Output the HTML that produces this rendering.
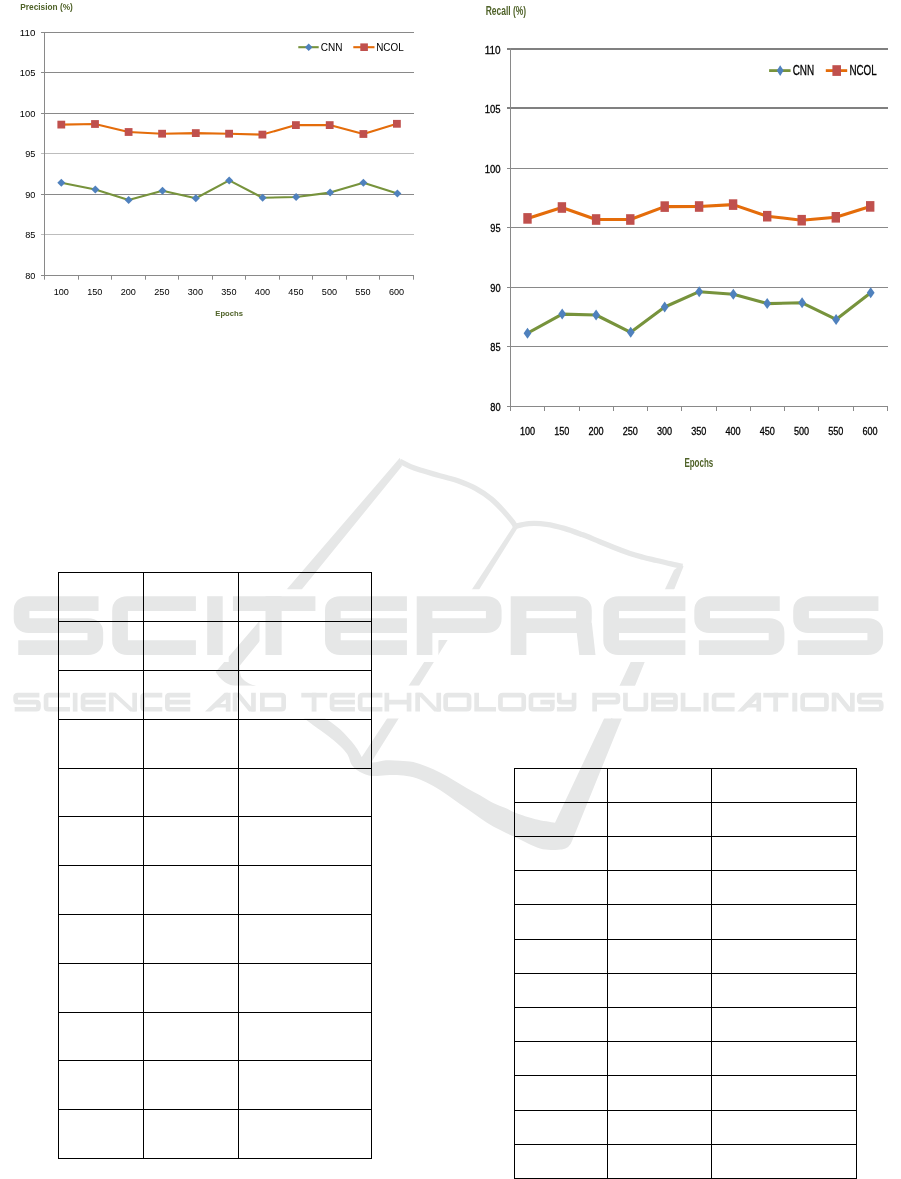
<!DOCTYPE html>
<html><head><meta charset="utf-8"><title>page</title>
<style>html,body{margin:0;padding:0;background:#fff;}body{width:901px;height:1179px;overflow:hidden;position:relative;font-family:'Liberation Sans', sans-serif;}svg{position:absolute;left:0;top:0;display:block;}text{font-family:'Liberation Sans', sans-serif;}</style>
</head><body>
<svg width="901" height="1179" viewBox="0 0 901 1179">
<defs><filter id="halo" filterUnits="userSpaceOnUse" x="0" y="575" width="901" height="100" color-interpolation-filters="sRGB"><feMorphology in="SourceAlpha" operator="dilate" radius="6 7" result="dil"/><feFlood flood-color="#ffffff" result="white"/><feComposite in="white" in2="dil" operator="in" result="halo"/><feMerge><feMergeNode in="halo"/><feMergeNode in="SourceGraphic"/></feMerge></filter><filter id="halo2" filterUnits="userSpaceOnUse" x="0" y="675" width="901" height="55" color-interpolation-filters="sRGB"><feMorphology in="SourceAlpha" operator="dilate" radius="13.5 6.8" result="dil"/><feFlood flood-color="#ffffff" result="white"/><feComposite in="white" in2="dil" operator="in" result="halo"/><feMerge><feMergeNode in="halo"/><feMergeNode in="SourceGraphic"/></feMerge></filter><filter id="soft" filterUnits="userSpaceOnUse" x="0" y="440" width="901" height="430"><feGaussianBlur stdDeviation="0.55"/></filter></defs>
<rect width="901" height="1179" fill="#fff"/>
<g id="wm" filter="url(#soft)">
<path fill="#e6e7e7" d="M399.9 457.7 L215.6 672 C216.5 673.1 218.9 676.9 221.1 678.9 C223.3 680.9 225.7 683.0 228.8 684.3 C231.9 685.6 234.8 686.4 239.7 686.8 C244.6 687.2 255.3 686.6 258.4 686.6 L258.4 686.4 C256.8 685.9 251.7 684.9 249.0 683.5 C246.3 682.1 243.5 680.0 242.0 678.1 C240.5 676.2 240.4 674.0 240.0 671.9 C239.6 669.8 239.8 666.7 239.7 665.7 L401.9 466.3 Z"/>
<path fill="none" stroke="#e6e7e7" stroke-width="5.3" d="M399.8 461.3 C401.6 462.2 407.0 465.1 410.6 466.6 C414.2 468.1 417.4 469.1 421.2 470.3 C425.0 471.5 429.0 472.7 433.2 473.9 C437.4 475.1 442.3 476.3 446.5 477.5 C450.7 478.7 453.7 479.2 458.5 481.0 C463.3 482.8 470.0 485.4 475.5 488.4 C481.0 491.4 486.8 495.2 491.5 499.1 C496.2 503.0 500.3 507.6 503.9 511.5 C507.4 515.4 510.9 519.7 512.8 522.2 C514.7 524.7 515.0 525.9 515.5 526.6"/>
<path fill="none" stroke="#e6e7e7" stroke-width="5.3" d="M515.5 526.2 C517.7 525.8 523.6 523.9 528.8 523.6 C534.0 523.3 540.7 523.5 546.6 524.3 C552.5 525.1 558.4 526.7 564.3 528.4 C570.2 530.1 576.2 532.4 582.1 534.6 C588.0 536.8 594.5 539.6 599.8 541.7 C605.1 543.9 609.0 545.5 614.0 547.5 C619.0 549.5 625.2 551.8 630.0 553.4 C634.8 555.0 638.6 556.0 643.0 557.2 C647.4 558.4 652.1 559.4 656.6 560.5 C661.1 561.6 665.7 562.6 670.0 563.6 C674.3 564.6 680.3 565.8 682.4 566.3"/>
<path fill="#e6e7e7" d="M513.5 526 L518.2 527 L370.5 763.5 L359.5 760.5 Z"/>
<path fill="#e6e7e7" d="M302.6 717.3 L324 717.6 C326.7 719.5 334.9 724.7 340.0 729.3 C345.1 733.9 350.8 740.4 354.6 745.3 C358.4 750.2 361.3 756.4 362.6 758.6 C364.2 759.2 368.1 762.2 372.0 762.5 C375.9 762.8 381.3 760.6 386.0 760.3 C390.7 760.0 395.4 760.4 400.0 760.7 C404.6 761.0 408.9 761.0 413.3 762.0 C417.7 763.0 422.2 764.8 426.6 766.6 C431.1 768.4 435.6 770.4 440.0 772.6 C444.4 774.8 448.9 777.4 453.3 780.0 C457.7 782.6 462.2 785.5 466.6 788.0 C471.1 790.5 475.6 792.8 480.0 795.3 C484.4 797.8 488.8 800.8 493.2 803.0 C497.6 805.2 502.8 806.9 506.6 808.6 C510.4 810.3 511.2 811.2 516.0 813.0 C520.8 814.8 529.0 817.6 535.5 819.2 C542.0 820.8 551.8 822.1 555.0 822.7 L674 570 L681.5 564.6 L683.5 566.5 L572 841 Q569.5 848.3 562 849.6 C560.2 849.7 554.7 850.2 551.0 850.0 C547.3 849.8 543.8 849.6 540.0 848.5 C536.2 847.4 532.2 845.5 528.0 843.5 C523.8 841.5 518.1 838.5 514.5 836.8 C510.9 835.1 510.2 834.9 506.6 833.2 C503.1 831.5 497.6 829.1 493.2 826.6 C488.8 824.1 484.4 821.0 480.0 818.0 C475.6 815.0 471.1 811.7 466.6 808.6 C462.2 805.5 457.7 802.4 453.3 799.3 C448.9 796.2 444.4 792.8 440.0 790.0 C435.6 787.2 431.1 784.7 426.6 782.6 C422.2 780.5 417.7 778.5 413.3 777.3 C408.9 776.1 404.6 775.6 400.0 775.3 C395.4 774.9 390.7 775.1 386.0 775.2 C381.3 775.3 376.3 776.5 372.0 776.0 C367.7 775.5 363.3 773.8 360.0 772.0 C356.7 770.2 354.2 768.4 352.0 765.3 C349.8 762.2 349.7 757.5 346.6 753.3 C343.5 749.1 338.9 744.7 333.3 740.0 C327.8 735.3 318.4 729.1 313.3 725.3 C308.2 721.5 304.4 718.6 302.6 717.3 Z"/>
<g filter="url(#halo)">
<g transform="translate(13.70 0) scale(1.060 1) translate(-13.70 0)">
<path d="M 93.73 603.6 H 28.1 Q 21.1 603.6 21.1 610.6 V 618.6 Q 21.1 625.6 28.1 625.6 H 83.73 Q 90.73 625.6 90.73 632.6 V 640.6 Q 90.73 647.6 83.73 647.6 H 18" fill="none" stroke="#e6e7e7" stroke-width="14.8" stroke-linejoin="miter"/>
</g>
<g transform="translate(112.20 0) scale(1.060 1) translate(-112.20 0)">
<path d="M 191.16 603.6 H 126.6 Q 119.6 603.6 119.6 610.6 V 640.6 Q 119.6 647.6 126.6 647.6 H 191.16" fill="none" stroke="#e6e7e7" stroke-width="14.8" stroke-linejoin="miter"/>
</g>
<g transform="translate(207.20 0) scale(1.060 1) translate(-207.20 0)">
<polygon points="207.2,596.2 221.82,596.2 221.82,655 207.2,655" fill="#e6e7e7"/>
</g>
<g transform="translate(232.90 0) scale(1.060 1) translate(-232.90 0)">
<path d="M 232.9 603.6 H 310.73" fill="none" stroke="#e6e7e7" stroke-width="14.8" stroke-linejoin="miter"/>
<polygon points="263.64,596.2 278.89,596.2 278.89,655 263.64,655" fill="#e6e7e7"/>
</g>
<g transform="translate(325.00 0) scale(1.060 1) translate(-325.00 0)">
<path d="M 402.26 603.6 H 339.4 Q 332.4 603.6 332.4 610.6 V 640.6 Q 332.4 647.6 339.4 647.6 H 402.26 M 332.4 625.6 H 402.26" fill="none" stroke="#e6e7e7" stroke-width="14.8" stroke-linejoin="miter"/>
</g>
<g transform="translate(416.70 0) scale(1.060 1) translate(-416.70 0)">
<path d="M 424.1 655 V 603.6 H 482.39 Q 489.39 603.6 489.39 610.6 V 618.6 Q 489.39 625.6 482.39 625.6 H 424.1" fill="none" stroke="#e6e7e7" stroke-width="14.8" stroke-linejoin="miter"/>
</g>
<g transform="translate(510.70 0) scale(1.060 1) translate(-510.70 0)">
<path d="M 518.1 655 V 603.6 H 572.8 Q 579.8 603.6 579.8 610.6 V 618.6 Q 579.8 625.6 572.8 625.6 H 518.1" fill="none" stroke="#e6e7e7" stroke-width="14.8" stroke-linejoin="miter"/>
<polygon points="572.2,625.6 587.2,622.6 590.7,655 575.4,655" fill="#e6e7e7"/>
</g>
<g transform="translate(603.30 0) scale(1.060 1) translate(-603.30 0)">
<path d="M 680.75 603.6 H 617.7 Q 610.7 603.6 610.7 610.6 V 640.6 Q 610.7 647.6 617.7 647.6 H 680.75 M 610.7 625.6 H 680.75" fill="none" stroke="#e6e7e7" stroke-width="14.8" stroke-linejoin="miter"/>
</g>
<g transform="translate(694.30 0) scale(1.060 1) translate(-694.30 0)">
<path d="M 774.9 603.6 H 708.7 Q 701.7 603.6 701.7 610.6 V 618.6 Q 701.7 625.6 708.7 625.6 H 764.9 Q 771.9 625.6 771.9 632.6 V 640.6 Q 771.9 647.6 764.9 647.6 H 698.6" fill="none" stroke="#e6e7e7" stroke-width="14.8" stroke-linejoin="miter"/>
</g>
<g transform="translate(793.20 0) scale(1.060 1) translate(-793.20 0)">
<path d="M 873.61 603.6 H 807.6 Q 800.6 603.6 800.6 610.6 V 618.6 Q 800.6 625.6 807.6 625.6 H 863.61 Q 870.61 625.6 870.61 632.6 V 640.6 Q 870.61 647.6 863.61 647.6 H 797.5" fill="none" stroke="#e6e7e7" stroke-width="14.8" stroke-linejoin="miter"/>
</g>
</g>
<g filter="url(#halo2)">
<path d="M 39.39 695.15 H 17.85 Q 15.65 695.15 15.65 697.35 V 700 Q 15.65 702.2 17.85 702.2 H 36.25 Q 38.45 702.2 38.45 704.4 V 707.05 Q 38.45 709.25 36.25 709.25 H 14.67" fill="none" stroke="#e6e7e7" stroke-width="4.7" stroke-linejoin="miter"/>
<path d="M 70 695.15 H 48.25 Q 46.05 695.15 46.05 697.35 V 707.05 Q 46.05 709.25 48.25 709.25 H 70" fill="none" stroke="#e6e7e7" stroke-width="4.7" stroke-linejoin="miter"/>
<polygon points="72.8,692.8 77.5,692.8 77.5,711.6 72.8,711.6" fill="#e6e7e7"/>
<path d="M 105.7 695.15 H 85.25 Q 83.05 695.15 83.05 697.35 V 707.05 Q 83.05 709.25 85.25 709.25 H 105.7 M 83.05 702.2 H 105.7" fill="none" stroke="#e6e7e7" stroke-width="4.7" stroke-linejoin="miter"/>
<path d="M 111.25 711.6 V 692.8 M 134.65 692.8 V 711.6" fill="none" stroke="#e6e7e7" stroke-width="4.7" stroke-linejoin="miter"/>
<polygon points="109.84,692.8 115.72,692.8 136.06,711.6 130.19,711.6" fill="#e6e7e7"/>
<path d="M 162.3 695.15 H 144.85 Q 142.65 695.15 142.65 697.35 V 707.05 Q 142.65 709.25 144.85 709.25 H 162.3" fill="none" stroke="#e6e7e7" stroke-width="4.7" stroke-linejoin="miter"/>
<path d="M 190.3 695.15 H 169.55 Q 167.35 695.15 167.35 697.35 V 707.05 Q 167.35 709.25 169.55 709.25 H 190.3 M 167.35 702.2 H 190.3" fill="none" stroke="#e6e7e7" stroke-width="4.7" stroke-linejoin="miter"/>
<path d="M 228.15 692.8 V 711.6" fill="none" stroke="#e6e7e7" stroke-width="4.7" stroke-linejoin="miter"/>
<polygon points="205,711.6 224.58,692.8 228.15,692.8 228.15,697.5 211.11,711.6" fill="#e6e7e7"/>
<polygon points="216.38,704.08 228.15,704.08 228.15,707.46 212.63,707.46" fill="#e6e7e7"/>
<path d="M 235.05 711.6 V 692.8 M 253.45 692.8 V 711.6" fill="none" stroke="#e6e7e7" stroke-width="4.7" stroke-linejoin="miter"/>
<polygon points="233.64,692.8 239.51,692.8 254.86,711.6 248.99,711.6" fill="#e6e7e7"/>
<path d="M 262.35 695.15 H 281.45 Q 283.65 695.15 283.65 697.35 V 707.05 Q 283.65 709.25 281.45 709.25 H 262.35 Z" fill="none" stroke="#e6e7e7" stroke-width="4.7" stroke-linejoin="miter"/>
<path d="M 301.3 695.15 H 327.2" fill="none" stroke="#e6e7e7" stroke-width="4.7" stroke-linejoin="miter"/>
<polygon points="311.65,692.8 316.49,692.8 316.49,711.6 311.65,711.6" fill="#e6e7e7"/>
<path d="M 354.9 695.15 H 334.25 Q 332.05 695.15 332.05 697.35 V 707.05 Q 332.05 709.25 334.25 709.25 H 354.9 M 332.05 702.2 H 354.9" fill="none" stroke="#e6e7e7" stroke-width="4.7" stroke-linejoin="miter"/>
<path d="M 382.4 695.15 H 362.35 Q 360.15 695.15 360.15 697.35 V 707.05 Q 360.15 709.25 362.35 709.25 H 382.4" fill="none" stroke="#e6e7e7" stroke-width="4.7" stroke-linejoin="miter"/>
<path d="M 386.85 692.8 V 711.6 M 409.05 692.8 V 711.6 M 386.85 702.2 H 409.05" fill="none" stroke="#e6e7e7" stroke-width="4.7" stroke-linejoin="miter"/>
<path d="M 417.65 711.6 V 692.8 M 438.75 692.8 V 711.6" fill="none" stroke="#e6e7e7" stroke-width="4.7" stroke-linejoin="miter"/>
<polygon points="416.24,692.8 422.12,692.8 440.16,711.6 434.29,711.6" fill="#e6e7e7"/>
<path d="M 447.85 695.15 H 466.85 Q 469.05 695.15 469.05 697.35 V 707.05 Q 469.05 709.25 466.85 709.25 H 447.85 Q 445.65 709.25 445.65 707.05 V 697.35 Q 445.65 695.15 447.85 695.15 Z" fill="none" stroke="#e6e7e7" stroke-width="4.7" stroke-linejoin="miter"/>
<path d="M 476.65 692.8 V 709.25 H 496" fill="none" stroke="#e6e7e7" stroke-width="4.7" stroke-linejoin="miter"/>
<path d="M 502.65 695.15 H 521.55 Q 523.75 695.15 523.75 697.35 V 707.05 Q 523.75 709.25 521.55 709.25 H 502.65 Q 500.45 709.25 500.45 707.05 V 697.35 Q 500.45 695.15 502.65 695.15 Z" fill="none" stroke="#e6e7e7" stroke-width="4.7" stroke-linejoin="miter"/>
<path d="M 554.7 695.15 H 533.15 Q 530.95 695.15 530.95 697.35 V 707.05 Q 530.95 709.25 533.15 709.25 H 550.15 Q 552.35 709.25 552.35 707.05 V 702.2 H 540.35" fill="none" stroke="#e6e7e7" stroke-width="4.7" stroke-linejoin="miter"/>
<path d="M 559.25 692.8 V 700 Q 559.25 702.2 561.45 702.2 H 574.05 M 574.05 692.8 V 707.05 Q 574.05 709.25 571.85 709.25 H 556.9" fill="none" stroke="#e6e7e7" stroke-width="4.7" stroke-linejoin="miter"/>
<path d="M 594.65 711.6 V 695.15 H 615.75 Q 617.95 695.15 617.95 697.35 V 700 Q 617.95 702.2 615.75 702.2 H 594.65" fill="none" stroke="#e6e7e7" stroke-width="4.7" stroke-linejoin="miter"/>
<path d="M 625.45 692.8 V 707.05 Q 625.45 709.25 627.65 709.25 H 643.65 Q 645.85 709.25 645.85 707.05 V 692.8" fill="none" stroke="#e6e7e7" stroke-width="4.7" stroke-linejoin="miter"/>
<path d="M 653.45 695.15 H 673.25 Q 675.45 695.15 675.45 697.35 V 707.05 Q 675.45 709.25 673.25 709.25 H 653.45 Z M 653.45 702.2 H 675.45" fill="none" stroke="#e6e7e7" stroke-width="4.7" stroke-linejoin="miter"/>
<path d="M 683.05 692.8 V 709.25 H 700.9" fill="none" stroke="#e6e7e7" stroke-width="4.7" stroke-linejoin="miter"/>
<polygon points="703.5,692.8 708.6,692.8 708.6,711.6 703.5,711.6" fill="#e6e7e7"/>
<path d="M 734.6 695.15 H 716.25 Q 714.05 695.15 714.05 697.35 V 707.05 Q 714.05 709.25 716.25 709.25 H 734.6" fill="none" stroke="#e6e7e7" stroke-width="4.7" stroke-linejoin="miter"/>
<path d="M 758.75 692.8 V 711.6" fill="none" stroke="#e6e7e7" stroke-width="4.7" stroke-linejoin="miter"/>
<polygon points="737.3,711.6 755.18,692.8 758.75,692.8 758.75,697.5 743.41,711.6" fill="#e6e7e7"/>
<polygon points="747.99,704.08 758.75,704.08 758.75,707.46 744.56,707.46" fill="#e6e7e7"/>
<path d="M 763.3 695.15 H 788.4" fill="none" stroke="#e6e7e7" stroke-width="4.7" stroke-linejoin="miter"/>
<polygon points="773.25,692.8 778.09,692.8 778.09,711.6 773.25,711.6" fill="#e6e7e7"/>
<polygon points="792.3,692.8 797.3,692.8 797.3,711.6 792.3,711.6" fill="#e6e7e7"/>
<path d="M 804.85 695.15 H 824.25 Q 826.45 695.15 826.45 697.35 V 707.05 Q 826.45 709.25 824.25 709.25 H 804.85 Q 802.65 709.25 802.65 707.05 V 697.35 Q 802.65 695.15 804.85 695.15 Z" fill="none" stroke="#e6e7e7" stroke-width="4.7" stroke-linejoin="miter"/>
<path d="M 834.05 711.6 V 692.8 M 852.35 692.8 V 711.6" fill="none" stroke="#e6e7e7" stroke-width="4.7" stroke-linejoin="miter"/>
<polygon points="832.64,692.8 838.52,692.8 853.76,711.6 847.88,711.6" fill="#e6e7e7"/>
<path d="M 882.19 695.15 H 861.45 Q 859.25 695.15 859.25 697.35 V 700 Q 859.25 702.2 861.45 702.2 H 879.05 Q 881.25 702.2 881.25 704.4 V 707.05 Q 881.25 709.25 879.05 709.25 H 858.27" fill="none" stroke="#e6e7e7" stroke-width="4.7" stroke-linejoin="miter"/>
</g>
</g>
<g id="tables">
<g stroke="#000" stroke-width="1" fill="none">
<line x1="58.00" y1="572.50" x2="372.00" y2="572.50"/>
<line x1="58.00" y1="621.50" x2="372.00" y2="621.50"/>
<line x1="58.00" y1="670.50" x2="372.00" y2="670.50"/>
<line x1="58.00" y1="719.50" x2="372.00" y2="719.50"/>
<line x1="58.00" y1="768.50" x2="372.00" y2="768.50"/>
<line x1="58.00" y1="816.50" x2="372.00" y2="816.50"/>
<line x1="58.00" y1="865.50" x2="372.00" y2="865.50"/>
<line x1="58.00" y1="914.50" x2="372.00" y2="914.50"/>
<line x1="58.00" y1="963.50" x2="372.00" y2="963.50"/>
<line x1="58.00" y1="1012.50" x2="372.00" y2="1012.50"/>
<line x1="58.00" y1="1060.50" x2="372.00" y2="1060.50"/>
<line x1="58.00" y1="1109.50" x2="372.00" y2="1109.50"/>
<line x1="58.00" y1="1158.50" x2="372.00" y2="1158.50"/>
<line x1="58.50" y1="572.50" x2="58.50" y2="1158.50"/>
<line x1="143.50" y1="572.50" x2="143.50" y2="1158.50"/>
<line x1="238.50" y1="572.50" x2="238.50" y2="1158.50"/>
<line x1="371.50" y1="572.50" x2="371.50" y2="1158.50"/>
<line x1="514.00" y1="768.50" x2="857.00" y2="768.50"/>
<line x1="514.00" y1="802.50" x2="857.00" y2="802.50"/>
<line x1="514.00" y1="836.50" x2="857.00" y2="836.50"/>
<line x1="514.00" y1="870.50" x2="857.00" y2="870.50"/>
<line x1="514.00" y1="904.50" x2="857.00" y2="904.50"/>
<line x1="514.00" y1="939.50" x2="857.00" y2="939.50"/>
<line x1="514.00" y1="973.50" x2="857.00" y2="973.50"/>
<line x1="514.00" y1="1007.50" x2="857.00" y2="1007.50"/>
<line x1="514.00" y1="1041.50" x2="857.00" y2="1041.50"/>
<line x1="514.00" y1="1075.50" x2="857.00" y2="1075.50"/>
<line x1="514.00" y1="1110.50" x2="857.00" y2="1110.50"/>
<line x1="514.00" y1="1144.50" x2="857.00" y2="1144.50"/>
<line x1="514.00" y1="1178.50" x2="857.00" y2="1178.50"/>
<line x1="514.50" y1="768.50" x2="514.50" y2="1179.00"/>
<line x1="607.50" y1="768.50" x2="607.50" y2="1179.00"/>
<line x1="711.50" y1="768.50" x2="711.50" y2="1179.00"/>
<line x1="856.50" y1="768.50" x2="856.50" y2="1179.00"/>
</g>
</g>
<g id="chart1">
<text x="20.30" y="9.80" font-size="8.3" font-weight="bold" fill="#4f6228" text-anchor="start" textLength="52.5" lengthAdjust="spacingAndGlyphs">Precision (%)</text>
<line x1="41.00" y1="32.50" x2="414.00" y2="32.50" stroke="#898989" stroke-width="1"/>
<text x="35.40" y="36.00" font-size="8.8" fill="#000" text-anchor="end" textLength="15.6" lengthAdjust="spacingAndGlyphs">110</text>
<line x1="41.00" y1="72.50" x2="414.00" y2="72.50" stroke="#898989" stroke-width="1"/>
<text x="35.40" y="76.00" font-size="8.8" fill="#000" text-anchor="end" textLength="15.6" lengthAdjust="spacingAndGlyphs">105</text>
<line x1="41.00" y1="113.50" x2="414.00" y2="113.50" stroke="#898989" stroke-width="1"/>
<text x="35.40" y="117.00" font-size="8.8" fill="#000" text-anchor="end" textLength="15.6" lengthAdjust="spacingAndGlyphs">100</text>
<line x1="41.00" y1="153.50" x2="414.00" y2="153.50" stroke="#bdbdbd" stroke-width="1"/>
<text x="35.40" y="157.00" font-size="8.8" fill="#000" text-anchor="end" textLength="10.2" lengthAdjust="spacingAndGlyphs">95</text>
<line x1="41.00" y1="194.50" x2="414.00" y2="194.50" stroke="#898989" stroke-width="1"/>
<text x="35.40" y="198.00" font-size="8.8" fill="#000" text-anchor="end" textLength="10.2" lengthAdjust="spacingAndGlyphs">90</text>
<line x1="41.00" y1="234.50" x2="414.00" y2="234.50" stroke="#bdbdbd" stroke-width="1"/>
<text x="35.40" y="238.00" font-size="8.8" fill="#000" text-anchor="end" textLength="10.2" lengthAdjust="spacingAndGlyphs">85</text>
<line x1="41.00" y1="275.50" x2="414.00" y2="275.50" stroke="#898989" stroke-width="1"/>
<text x="35.40" y="279.00" font-size="8.8" fill="#000" text-anchor="end" textLength="10.2" lengthAdjust="spacingAndGlyphs">80</text>
<line x1="44.50" y1="32.00" x2="44.50" y2="279.70" stroke="#898989" stroke-width="1"/>
<line x1="78.50" y1="275.50" x2="78.50" y2="279.70" stroke="#898989" stroke-width="1"/>
<line x1="111.50" y1="275.50" x2="111.50" y2="279.70" stroke="#898989" stroke-width="1"/>
<line x1="145.50" y1="275.50" x2="145.50" y2="279.70" stroke="#898989" stroke-width="1"/>
<line x1="178.50" y1="275.50" x2="178.50" y2="279.70" stroke="#898989" stroke-width="1"/>
<line x1="212.50" y1="275.50" x2="212.50" y2="279.70" stroke="#898989" stroke-width="1"/>
<line x1="245.50" y1="275.50" x2="245.50" y2="279.70" stroke="#898989" stroke-width="1"/>
<line x1="279.50" y1="275.50" x2="279.50" y2="279.70" stroke="#898989" stroke-width="1"/>
<line x1="312.50" y1="275.50" x2="312.50" y2="279.70" stroke="#898989" stroke-width="1"/>
<line x1="346.50" y1="275.50" x2="346.50" y2="279.70" stroke="#898989" stroke-width="1"/>
<line x1="379.50" y1="275.50" x2="379.50" y2="279.70" stroke="#898989" stroke-width="1"/>
<line x1="413.50" y1="275.50" x2="413.50" y2="279.70" stroke="#898989" stroke-width="1"/>
<text x="61.30" y="295.10" font-size="8.8" fill="#000" text-anchor="middle" textLength="15.2" lengthAdjust="spacingAndGlyphs">100</text>
<text x="94.82" y="295.10" font-size="8.8" fill="#000" text-anchor="middle" textLength="15.2" lengthAdjust="spacingAndGlyphs">150</text>
<text x="128.34" y="295.10" font-size="8.8" fill="#000" text-anchor="middle" textLength="15.2" lengthAdjust="spacingAndGlyphs">200</text>
<text x="161.86" y="295.10" font-size="8.8" fill="#000" text-anchor="middle" textLength="15.2" lengthAdjust="spacingAndGlyphs">250</text>
<text x="195.38" y="295.10" font-size="8.8" fill="#000" text-anchor="middle" textLength="15.2" lengthAdjust="spacingAndGlyphs">300</text>
<text x="228.90" y="295.10" font-size="8.8" fill="#000" text-anchor="middle" textLength="15.2" lengthAdjust="spacingAndGlyphs">350</text>
<text x="262.42" y="295.10" font-size="8.8" fill="#000" text-anchor="middle" textLength="15.2" lengthAdjust="spacingAndGlyphs">400</text>
<text x="295.94" y="295.10" font-size="8.8" fill="#000" text-anchor="middle" textLength="15.2" lengthAdjust="spacingAndGlyphs">450</text>
<text x="329.46" y="295.10" font-size="8.8" fill="#000" text-anchor="middle" textLength="15.2" lengthAdjust="spacingAndGlyphs">500</text>
<text x="362.98" y="295.10" font-size="8.8" fill="#000" text-anchor="middle" textLength="15.2" lengthAdjust="spacingAndGlyphs">550</text>
<text x="396.50" y="295.10" font-size="8.8" fill="#000" text-anchor="middle" textLength="15.2" lengthAdjust="spacingAndGlyphs">600</text>
<text x="215.30" y="316.30" font-size="7.7" font-weight="bold" fill="#4f6228" text-anchor="start" textLength="27.7" lengthAdjust="spacingAndGlyphs">Epochs</text>
<polyline fill="none" stroke="#77933c" stroke-width="2.1" stroke-linejoin="round" points="61.3,182.8 95.3,189.5 128.6,200.1 162.5,190.8 195.8,198.3 229.2,180.4 262.6,197.7 296.1,197.0 330.1,192.6 363.4,182.8 397.4,193.5"/>
<path fill="#4f81bd" d="M61.3 178.8 l4 4 l-4 4 l-4 -4 z"/>
<path fill="#4f81bd" d="M95.3 185.5 l4 4 l-4 4 l-4 -4 z"/>
<path fill="#4f81bd" d="M128.6 196.1 l4 4 l-4 4 l-4 -4 z"/>
<path fill="#4f81bd" d="M162.5 186.8 l4 4 l-4 4 l-4 -4 z"/>
<path fill="#4f81bd" d="M195.8 194.3 l4 4 l-4 4 l-4 -4 z"/>
<path fill="#4f81bd" d="M229.2 176.4 l4 4 l-4 4 l-4 -4 z"/>
<path fill="#4f81bd" d="M262.6 193.7 l4 4 l-4 4 l-4 -4 z"/>
<path fill="#4f81bd" d="M296.1 193.0 l4 4 l-4 4 l-4 -4 z"/>
<path fill="#4f81bd" d="M330.1 188.6 l4 4 l-4 4 l-4 -4 z"/>
<path fill="#4f81bd" d="M363.4 178.8 l4 4 l-4 4 l-4 -4 z"/>
<path fill="#4f81bd" d="M397.4 189.5 l4 4 l-4 4 l-4 -4 z"/>
<polyline fill="none" stroke="#e46c0a" stroke-width="2.1" stroke-linejoin="round" points="61.3,124.6 95.0,124.0 128.6,132.0 162.1,133.7 195.8,133.1 229.1,133.7 262.4,134.6 295.9,125.1 329.7,125.1 363.4,134.0 396.9,123.8"/>
<rect fill="#c0504d" x="57.4" y="120.7" width="7.8" height="7.8"/>
<rect fill="#c0504d" x="91.1" y="120.1" width="7.8" height="7.8"/>
<rect fill="#c0504d" x="124.7" y="128.1" width="7.8" height="7.8"/>
<rect fill="#c0504d" x="158.2" y="129.8" width="7.8" height="7.8"/>
<rect fill="#c0504d" x="191.9" y="129.2" width="7.8" height="7.8"/>
<rect fill="#c0504d" x="225.2" y="129.8" width="7.8" height="7.8"/>
<rect fill="#c0504d" x="258.5" y="130.7" width="7.8" height="7.8"/>
<rect fill="#c0504d" x="292.0" y="121.2" width="7.8" height="7.8"/>
<rect fill="#c0504d" x="325.8" y="121.2" width="7.8" height="7.8"/>
<rect fill="#c0504d" x="359.5" y="130.1" width="7.8" height="7.8"/>
<rect fill="#c0504d" x="393.0" y="119.9" width="7.8" height="7.8"/>
<line x1="298.3" y1="47.2" x2="318.7" y2="47.2" stroke="#77933c" stroke-width="2.1"/>
<path fill="#4f81bd" d="M308.7 43.4 l3.8 3.8 l-3.8 3.8 l-3.8 -3.8 z"/>
<text x="320.80" y="50.90" font-size="10.3" fill="#000" text-anchor="start" textLength="21.7" lengthAdjust="spacingAndGlyphs">CNN</text>
<line x1="353.3" y1="47.2" x2="374.5" y2="47.2" stroke="#e46c0a" stroke-width="2.1"/>
<rect fill="#c0504d" x="360.3" y="43.4" width="7.6" height="7.6"/>
<text x="376.20" y="50.90" font-size="10.3" fill="#000" text-anchor="start" textLength="27.5" lengthAdjust="spacingAndGlyphs">NCOL</text>
</g>
<g id="chart2">
<text x="485.70" y="15.10" font-size="12.2" font-weight="bold" fill="#4f6228" text-anchor="start" textLength="40.4" lengthAdjust="spacingAndGlyphs">Recall (%)</text>
<line x1="507.00" y1="49.00" x2="888.00" y2="49.00" stroke="#808080" stroke-width="2.0"/>
<text x="500.60" y="53.60" font-size="11.4" stroke="#000" stroke-width="0.3" fill="#000" text-anchor="end" textLength="15.9" lengthAdjust="spacingAndGlyphs">110</text>
<line x1="507.00" y1="108.00" x2="888.00" y2="108.00" stroke="#808080" stroke-width="2.0"/>
<text x="500.60" y="112.60" font-size="11.4" stroke="#000" stroke-width="0.3" fill="#000" text-anchor="end" textLength="15.9" lengthAdjust="spacingAndGlyphs">105</text>
<line x1="507.00" y1="168.50" x2="888.00" y2="168.50" stroke="#898989" stroke-width="1.0"/>
<text x="500.60" y="173.10" font-size="11.4" stroke="#000" stroke-width="0.3" fill="#000" text-anchor="end" textLength="15.9" lengthAdjust="spacingAndGlyphs">100</text>
<line x1="507.00" y1="227.50" x2="888.00" y2="227.50" stroke="#898989" stroke-width="1.0"/>
<text x="500.60" y="232.10" font-size="11.4" stroke="#000" stroke-width="0.3" fill="#000" text-anchor="end" textLength="10.3" lengthAdjust="spacingAndGlyphs">95</text>
<line x1="507.00" y1="287.50" x2="888.00" y2="287.50" stroke="#898989" stroke-width="1.0"/>
<text x="500.60" y="292.10" font-size="11.4" stroke="#000" stroke-width="0.3" fill="#000" text-anchor="end" textLength="10.3" lengthAdjust="spacingAndGlyphs">90</text>
<line x1="507.00" y1="346.50" x2="888.00" y2="346.50" stroke="#898989" stroke-width="1.0"/>
<text x="500.60" y="351.10" font-size="11.4" stroke="#000" stroke-width="0.3" fill="#000" text-anchor="end" textLength="10.3" lengthAdjust="spacingAndGlyphs">85</text>
<line x1="507.00" y1="406.50" x2="888.00" y2="406.50" stroke="#898989" stroke-width="1.0"/>
<text x="500.60" y="411.10" font-size="11.4" stroke="#000" stroke-width="0.3" fill="#000" text-anchor="end" textLength="10.3" lengthAdjust="spacingAndGlyphs">80</text>
<line x1="510.50" y1="48.00" x2="510.50" y2="411.00" stroke="#898989" stroke-width="1"/>
<line x1="544.50" y1="406.50" x2="544.50" y2="411.00" stroke="#898989" stroke-width="1"/>
<line x1="579.50" y1="406.50" x2="579.50" y2="411.00" stroke="#898989" stroke-width="1"/>
<line x1="613.50" y1="406.50" x2="613.50" y2="411.00" stroke="#898989" stroke-width="1"/>
<line x1="647.50" y1="406.50" x2="647.50" y2="411.00" stroke="#898989" stroke-width="1"/>
<line x1="681.50" y1="406.50" x2="681.50" y2="411.00" stroke="#898989" stroke-width="1"/>
<line x1="716.50" y1="406.50" x2="716.50" y2="411.00" stroke="#898989" stroke-width="1"/>
<line x1="750.50" y1="406.50" x2="750.50" y2="411.00" stroke="#898989" stroke-width="1"/>
<line x1="784.50" y1="406.50" x2="784.50" y2="411.00" stroke="#898989" stroke-width="1"/>
<line x1="818.50" y1="406.50" x2="818.50" y2="411.00" stroke="#898989" stroke-width="1"/>
<line x1="853.50" y1="406.50" x2="853.50" y2="411.00" stroke="#898989" stroke-width="1"/>
<line x1="887.50" y1="406.50" x2="887.50" y2="411.00" stroke="#898989" stroke-width="1"/>
<text x="527.50" y="434.80" font-size="11.6" stroke="#000" stroke-width="0.3" fill="#000" text-anchor="middle" textLength="15.2" lengthAdjust="spacingAndGlyphs">100</text>
<text x="561.75" y="434.80" font-size="11.6" stroke="#000" stroke-width="0.3" fill="#000" text-anchor="middle" textLength="15.2" lengthAdjust="spacingAndGlyphs">150</text>
<text x="596.00" y="434.80" font-size="11.6" stroke="#000" stroke-width="0.3" fill="#000" text-anchor="middle" textLength="15.2" lengthAdjust="spacingAndGlyphs">200</text>
<text x="630.25" y="434.80" font-size="11.6" stroke="#000" stroke-width="0.3" fill="#000" text-anchor="middle" textLength="15.2" lengthAdjust="spacingAndGlyphs">250</text>
<text x="664.50" y="434.80" font-size="11.6" stroke="#000" stroke-width="0.3" fill="#000" text-anchor="middle" textLength="15.2" lengthAdjust="spacingAndGlyphs">300</text>
<text x="698.75" y="434.80" font-size="11.6" stroke="#000" stroke-width="0.3" fill="#000" text-anchor="middle" textLength="15.2" lengthAdjust="spacingAndGlyphs">350</text>
<text x="733.00" y="434.80" font-size="11.6" stroke="#000" stroke-width="0.3" fill="#000" text-anchor="middle" textLength="15.2" lengthAdjust="spacingAndGlyphs">400</text>
<text x="767.25" y="434.80" font-size="11.6" stroke="#000" stroke-width="0.3" fill="#000" text-anchor="middle" textLength="15.2" lengthAdjust="spacingAndGlyphs">450</text>
<text x="801.50" y="434.80" font-size="11.6" stroke="#000" stroke-width="0.3" fill="#000" text-anchor="middle" textLength="15.2" lengthAdjust="spacingAndGlyphs">500</text>
<text x="835.75" y="434.80" font-size="11.6" stroke="#000" stroke-width="0.3" fill="#000" text-anchor="middle" textLength="15.2" lengthAdjust="spacingAndGlyphs">550</text>
<text x="870.00" y="434.80" font-size="11.6" stroke="#000" stroke-width="0.3" fill="#000" text-anchor="middle" textLength="15.2" lengthAdjust="spacingAndGlyphs">600</text>
<text x="684.40" y="466.80" font-size="12.2" font-weight="bold" fill="#4f6228" text-anchor="start" textLength="28.9" lengthAdjust="spacingAndGlyphs">Epochs</text>
<polyline fill="none" stroke="#77933c" stroke-width="3.1" stroke-linejoin="round" points="527.5,333.2 562.2,314.1 596.1,315.0 630.7,332.3 664.7,307.0 699.2,291.7 733.3,294.3 767.2,303.6 802.1,302.8 836.1,319.4 870.7,292.8"/>
<path fill="#4f81bd" d="M527.5 327.7 l3.9 5.5 l-3.9 5.5 l-3.9 -5.5 z"/>
<path fill="#4f81bd" d="M562.2 308.6 l3.9 5.5 l-3.9 5.5 l-3.9 -5.5 z"/>
<path fill="#4f81bd" d="M596.1 309.5 l3.9 5.5 l-3.9 5.5 l-3.9 -5.5 z"/>
<path fill="#4f81bd" d="M630.7 326.8 l3.9 5.5 l-3.9 5.5 l-3.9 -5.5 z"/>
<path fill="#4f81bd" d="M664.7 301.5 l3.9 5.5 l-3.9 5.5 l-3.9 -5.5 z"/>
<path fill="#4f81bd" d="M699.2 286.2 l3.9 5.5 l-3.9 5.5 l-3.9 -5.5 z"/>
<path fill="#4f81bd" d="M733.3 288.8 l3.9 5.5 l-3.9 5.5 l-3.9 -5.5 z"/>
<path fill="#4f81bd" d="M767.2 298.1 l3.9 5.5 l-3.9 5.5 l-3.9 -5.5 z"/>
<path fill="#4f81bd" d="M802.1 297.3 l3.9 5.5 l-3.9 5.5 l-3.9 -5.5 z"/>
<path fill="#4f81bd" d="M836.1 313.9 l3.9 5.5 l-3.9 5.5 l-3.9 -5.5 z"/>
<path fill="#4f81bd" d="M870.7 287.3 l3.9 5.5 l-3.9 5.5 l-3.9 -5.5 z"/>
<polyline fill="none" stroke="#e46c0a" stroke-width="3.1" stroke-linejoin="round" points="527.5,218.4 561.9,207.5 596.1,219.5 630.3,219.5 664.7,206.6 699.1,206.5 733.1,204.6 767.2,216.2 801.7,220.2 835.8,217.3 870.2,206.4"/>
<rect fill="#c0504d" x="523.3" y="213.1" width="8.4" height="10.6"/>
<rect fill="#c0504d" x="557.7" y="202.2" width="8.4" height="10.6"/>
<rect fill="#c0504d" x="591.9" y="214.2" width="8.4" height="10.6"/>
<rect fill="#c0504d" x="626.1" y="214.2" width="8.4" height="10.6"/>
<rect fill="#c0504d" x="660.5" y="201.3" width="8.4" height="10.6"/>
<rect fill="#c0504d" x="694.9" y="201.2" width="8.4" height="10.6"/>
<rect fill="#c0504d" x="728.9" y="199.3" width="8.4" height="10.6"/>
<rect fill="#c0504d" x="763.0" y="210.9" width="8.4" height="10.6"/>
<rect fill="#c0504d" x="797.5" y="214.9" width="8.4" height="10.6"/>
<rect fill="#c0504d" x="831.6" y="212.0" width="8.4" height="10.6"/>
<rect fill="#c0504d" x="866.0" y="201.1" width="8.4" height="10.6"/>
<line x1="769.1" y1="70.6" x2="790.6" y2="70.6" stroke="#77933c" stroke-width="2.8"/>
<path fill="#4f81bd" d="M780.2 65.3 l3.4 5.3 l-3.4 5.3 l-3.4 -5.3 z"/>
<text x="792.70" y="74.80" font-size="14" stroke="#000" stroke-width="0.3" fill="#000" text-anchor="start" textLength="21.5" lengthAdjust="spacingAndGlyphs">CNN</text>
<line x1="825.8" y1="70.6" x2="847.2" y2="70.6" stroke="#e46c0a" stroke-width="2.8"/>
<rect fill="#c0504d" x="832.4" y="65.2" width="8.6" height="10.7"/>
<text x="849.40" y="74.80" font-size="14" stroke="#000" stroke-width="0.3" fill="#000" text-anchor="start" textLength="27.3" lengthAdjust="spacingAndGlyphs">NCOL</text>
</g>
</svg>
</body></html>
